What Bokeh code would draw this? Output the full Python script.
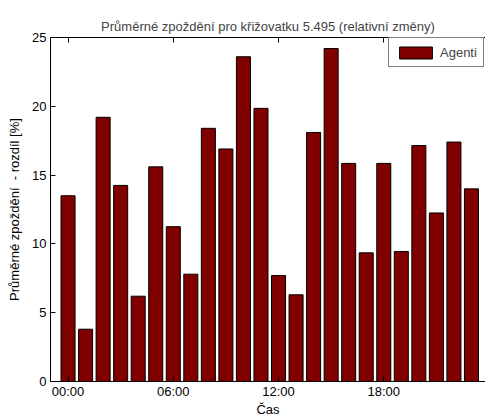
from bokeh.plotting import figure
from bokeh.models import FixedTicker, LinearAxis, Range1d, Legend
from bokeh.embed import file_html
from bokeh.resources import INLINE

# average delay change per hour (relative, %)
hours = list(range(24))
hour_labels = {0: "00:00", 6: "06:00", 12: "12:00", 18: "18:00"}
agenti = [13.5, 3.8, 19.2, 14.25, 6.2, 15.6, 11.25, 7.8, 18.4, 16.9, 23.6, 19.85,
          7.7, 6.3, 18.1, 24.2, 15.85, 9.35, 15.85, 9.45, 17.15, 12.25, 17.4, 14.0]

FONT = "Liberation Sans"
FS = "13px"

# bokeh's page template has no body margin, so the figure starts at (0, 0)
p = figure(width=485, height=419, output_backend="svg", toolbar_location=None,
           x_range=Range1d(-1, 23.8), y_range=Range1d(0, 25),
           min_border_left=50, min_border_right=0, min_border_top=37,
           min_border_bottom=0)
p.outline_line_color = None
p.xgrid.visible = False
p.ygrid.visible = False

p.title.text = "Průměrné zpoždění pro křižovatku 5.495 (relativní změny)"
p.title.text_font = FONT
p.title.text_font_size = FS
p.title.text_font_style = "normal"
p.title.align = "center"
p.title.standoff = 7

r = p.vbar(x=hours, top=agenti, width=0.8, fill_color="#800000",
           line_color="black", line_width=1)

ticker = FixedTicker(ticks=list(hour_labels.keys()))
p.xaxis.ticker = ticker
p.xaxis.major_label_overrides = hour_labels
p.xaxis.axis_label = "Čas"
p.yaxis.ticker = FixedTicker(ticks=[0, 5, 10, 15, 20, 25])
p.yaxis.axis_label = "Průměrné zpoždění \u00a0- rozdíl [%]"

for ax in p.axis:
    ax.major_tick_in = 5
    ax.major_tick_out = 0
    ax.minor_tick_in = 0
    ax.minor_tick_out = 0
    ax.axis_line_color = "black"
    ax.major_tick_line_color = "black"
    ax.major_label_text_font = FONT
    ax.major_label_text_font_size = FS
    ax.major_label_text_color = "black"
    ax.axis_label_text_font = FONT
    ax.axis_label_text_font_size = FS
    ax.axis_label_text_font_style = "normal"
    ax.axis_label_text_color = "black"
p.xaxis.major_label_standoff = 2
p.xaxis.axis_label_standoff = 0
p.yaxis.major_label_standoff = 4
p.yaxis.axis_label_standoff = 7

# top frame edge with inward ticks, no labels
top = LinearAxis(ticker=ticker, major_label_overrides={k: "" for k in hour_labels},
                 major_label_standoff=0, major_tick_in=5, major_tick_out=0,
                 minor_tick_in=0, minor_tick_out=0, axis_line_color="black")
p.add_layout(top, "above")

legend = Legend(items=[("Agenti", [r])], location=(338, 314), margin=0)
legend.label_text_font = FONT
legend.label_text_font_size = FS
legend.glyph_width = 41
legend.glyph_height = 15
legend.label_height = 16
legend.label_standoff = 4
legend.padding = 6
legend.border_line_color = "black"
legend.border_line_width = 1
legend.background_fill_alpha = 1
p.add_layout(legend, "center")

open("out.html", "w").write(file_html(p, INLINE))
